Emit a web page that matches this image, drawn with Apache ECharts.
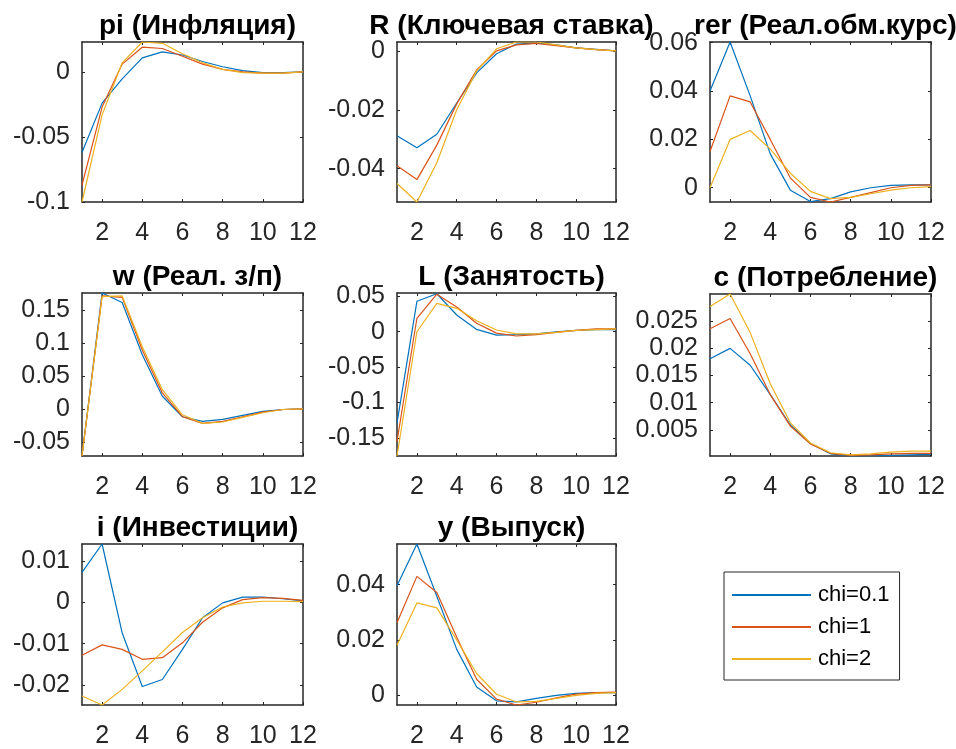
<!DOCTYPE html>
<html>
<head>
<meta charset="utf-8">
<script src="https://cdn.jsdelivr.net/npm/echarts@6/dist/echarts.min.js"></script>
<style>
  html, body { margin: 0; padding: 0; background: #fff; }
  #main { width: 956px; height: 749px; }
</style>
</head>
<body>
<div id="main"></div>
<script>
// periods 1..12, three values of chi
const periods = [1, 2, 3, 4, 5, 6, 7, 8, 9, 10, 11, 12]
const names = ['chi=0.1', 'chi=1', 'chi=2']
const colors = ['#0072BD', '#D95319', '#EDB120']
const xTicks = [2, 4, 6, 8, 10, 12]

// pi (inflation)
const pi01 = [-0.062, -0.024, -0.0054, 0.0108, 0.0154, 0.013, 0.008, 0.004, 0.001, -0.0005, -0.0005, 0]
const pi1 = [-0.087, -0.027, 0.006, 0.019, 0.018, 0.012, 0.006, 0.002, 0, -0.001, -0.001, 0]
const pi2 = [-0.1, -0.033, 0.007, 0.023, 0.022, 0.014, 0.007, 0.002, -0.0005, -0.001, -0.001, 0]
// R (policy rate)
const r01 = [-0.0288, -0.0329, -0.0283, -0.0177, -0.0075, -0.001, 0.0023, 0.0026, 0.002, 0.001, 0.0005, 0]
const r1 = [-0.039, -0.0437, -0.032, -0.018, -0.0065, 0, 0.002, 0.0025, 0.0018, 0.001, 0.0004, 0]
const r2 = [-0.045, -0.0513, -0.038, -0.02, -0.0068, 0.0007, 0.003, 0.003, 0.002, 0.001, 0.0004, 0]
// rer (real exchange rate)
const rer01 = [0.040, 0.0603, 0.038, 0.014, -0.001, -0.0057, -0.0045, -0.0017, 0, 0.001, 0.0012, 0.0012]
const rer1 = [0.015, 0.038, 0.0355, 0.020, 0.004, -0.004, -0.0059, -0.004, -0.002, 0, 0.001, 0.0012]
const rer2 = [0, 0.020, 0.0237, 0.016, 0.006, -0.0015, -0.0045, -0.004, -0.0025, -0.001, 0, 0.0005]
// w (real wage)
const w01 = [-0.0705, 0.1765, 0.162, 0.083, 0.020, -0.011, -0.018, -0.015, -0.009, -0.003, 0, 0.001]
const w1 = [-0.0705, 0.172, 0.170, 0.090, 0.025, -0.011, -0.021, -0.018, -0.011, -0.004, 0, 0.001]
const w2 = [-0.0705, 0.171, 0.172, 0.095, 0.030, -0.008, -0.021, -0.019, -0.012, -0.005, 0, 0.001]
// L (employment)
const l01 = [-0.129, 0.043, 0.0536, 0.0236, 0.0033, -0.0047, -0.004, -0.003, 0, 0.002, 0.003, 0.003]
const l1 = [-0.155, 0.019, 0.053, 0.035, 0.012, -0.002, -0.006, -0.004, -0.001, 0.002, 0.004, 0.004]
const l2 = [-0.1755, 0, 0.040, 0.033, 0.0155, 0.0024, -0.003, -0.003, -0.001, 0.002, 0.003, 0.004]
// c (consumption)
const c01 = [0.0181, 0.020, 0.0169, 0.0115, 0.0059, 0.0025, 0.0006, 0.0002, 0.0002, 0.0003, 0.0004, 0.0005]
const c1 = [0.0236, 0.0255, 0.019, 0.0115, 0.0057, 0.0024, 0.0007, 0.0003, 0.0004, 0.0006, 0.0007, 0.0007]
const c2 = [0.0277, 0.030, 0.0229, 0.0135, 0.0063, 0.0026, 0.0008, 0.0004, 0.0006, 0.0009, 0.0011, 0.0011]
// i (investment)
const i01 = [0.0073, 0.0142, -0.0074, -0.0204, -0.0187, -0.0114, -0.0037, -0.0001, 0.0013, 0.0013, 0.0009, 0.0004]
const i1 = [-0.0128, -0.0103, -0.0114, -0.0138, -0.0134, -0.0098, -0.0048, -0.0013, 0.0007, 0.0012, 0.001, 0.0005]
const i2 = [-0.0227, -0.0249, -0.0211, -0.0166, -0.012, -0.0073, -0.0037, -0.0011, -0.0001, 0.0003, 0.0003, 0.0002]
// y (output)
const y01 = [0.0396, 0.0547, 0.0358, 0.0166, 0.003, -0.002, -0.0024, -0.0011, 0, 0.0007, 0.001, 0.001]
const y1 = [0.0262, 0.043, 0.0372, 0.021, 0.0058, -0.0014, -0.0035, -0.0025, -0.0009, 0.0004, 0.001, 0.0012]
const y2 = [0.0181, 0.0334, 0.0316, 0.020, 0.0079, 0.0004, -0.0024, -0.0022, -0.0011, 0, 0.0007, 0.001]

// y tick values per panel
const piTicks = [-0.1, -0.05, 0]
const rTicks = [-0.04, -0.02, 0]
const rerTicks = [0, 0.02, 0.04, 0.06]
const wTicks = [-0.05, 0, 0.05, 0.1, 0.15]
const lTicks = [-0.15, -0.1, -0.05, 0, 0.05]
const cTicks = [0.005, 0.01, 0.015, 0.02, 0.025]
const iTicks = [-0.02, -0.01, 0, 0.01]
const yTicks = [0, 0.02, 0.04]

const panels = [
  { title: 'pi (Инфляция)', lines: [pi01, pi1, pi2], ticks: piTicks, min: -0.1, max: 0.023, box: [82, 42, 221, 160] },
  { title: 'R (Ключевая ставка)', lines: [r01, r1, r2], ticks: rTicks, min: -0.0513, max: 0.003, box: [397, 42, 219, 160] },
  { title: 'rer (Реал.обм.курс)', lines: [rer01, rer1, rer2], ticks: rerTicks, min: -0.0059, max: 0.0603, box: [710, 42, 221, 160] },
  { title: 'w (Реал. з/п)', lines: [w01, w1, w2], ticks: wTicks, min: -0.0705, max: 0.1765, box: [82, 293, 221, 163] },
  { title: 'L (Занятость)', lines: [l01, l1, l2], ticks: lTicks, min: -0.1755, max: 0.0547, box: [397, 293, 219, 163] },
  { title: 'c (Потребление)', lines: [c01, c1, c2], ticks: cTicks, min: 0.0002, max: 0.030, box: [710, 294, 221, 162] },
  { title: 'i (Инвестиции)', lines: [i01, i1, i2], ticks: iTicks, min: -0.0249, max: 0.0142, box: [82, 544, 221, 162] },
  { title: 'y (Выпуск)', lines: [y01, y1, y2], ticks: yTicks, min: -0.0035, max: 0.0547, box: [397, 544, 219, 162] },
]

const font = 'Liberation Sans, Arial, Helvetica, sans-serif'
const axisColor = '#262626'

let grid = [], xAxis = [], yAxis = [], series = [], title = []
panels.forEach((p, k) => {
  const [left, top, width, height] = p.box
  grid.push({ left, top, width, height, containLabel: false })
  title.push({
    text: p.title,
    left: left + width / 2,
    top: top - 35,
    textAlign: 'center',
    textStyle: { fontFamily: font, fontSize: 28, fontWeight: 'bold', color: '#000' }
  })
  const line = { show: true, onZero: false, lineStyle: { color: axisColor, width: 1.5 } }
  // bottom + top x axes
  ;['bottom', 'top'].forEach((pos, j) => {
    xAxis.push({
      type: 'value', gridIndex: k, position: pos, min: 1, max: 12,
      axisLine: line,
      splitLine: { show: false },
      axisTick: { show: true, inside: true, length: 3, customValues: xTicks, lineStyle: { color: axisColor, width: 1 } },
      axisLabel: {
        show: j === 0, customValues: xTicks, margin: 19,
        fontFamily: font, fontSize: 25, color: axisColor
      }
    })
  })
  // left + right y axes
  ;['left', 'right'].forEach((pos, j) => {
    yAxis.push({
      type: 'value', gridIndex: k, position: pos, min: p.min, max: p.max,
      axisLine: line,
      splitLine: { show: false },
      axisTick: { show: true, inside: true, length: 3, customValues: p.ticks, lineStyle: { color: axisColor, width: 1 } },
      axisLabel: {
        show: j === 0, customValues: p.ticks, margin: 12,
        formatter: v => String(v),
        fontFamily: font, fontSize: 25, color: axisColor
      }
    })
  })
  p.lines.forEach((vals, s) => {
    series.push({
      name: names[s],
      type: 'line',
      xAxisIndex: k * 2,
      yAxisIndex: k * 2,
      data: periods.map((t, n) => [t, vals[n]]),
      showSymbol: false,
      symbol: 'none',
      lineStyle: { width: 1.2, color: colors[s] },
      itemStyle: { color: colors[s] },
      silent: true,
      animation: false
    })
  })
})

const myChart = echarts.init(document.getElementById('main'))
myChart.setOption({
  animation: false,
  color: colors,
  title,
  grid,
  xAxis,
  yAxis,
  legend: {
    data: names,
    orient: 'vertical',
    left: 724,
    top: 572,
    padding: [12, 10, 10, 8],
    itemGap: 10,
    itemWidth: 79,
    itemHeight: 2,
    icon: 'rect',
    backgroundColor: '#fff',
    borderColor: axisColor,
    borderWidth: 1,
    textStyle: { fontFamily: font, fontSize: 22, color: '#000', padding: [0, 0, 0, 2] }
  },
  series
})
</script>
</body>
</html>
